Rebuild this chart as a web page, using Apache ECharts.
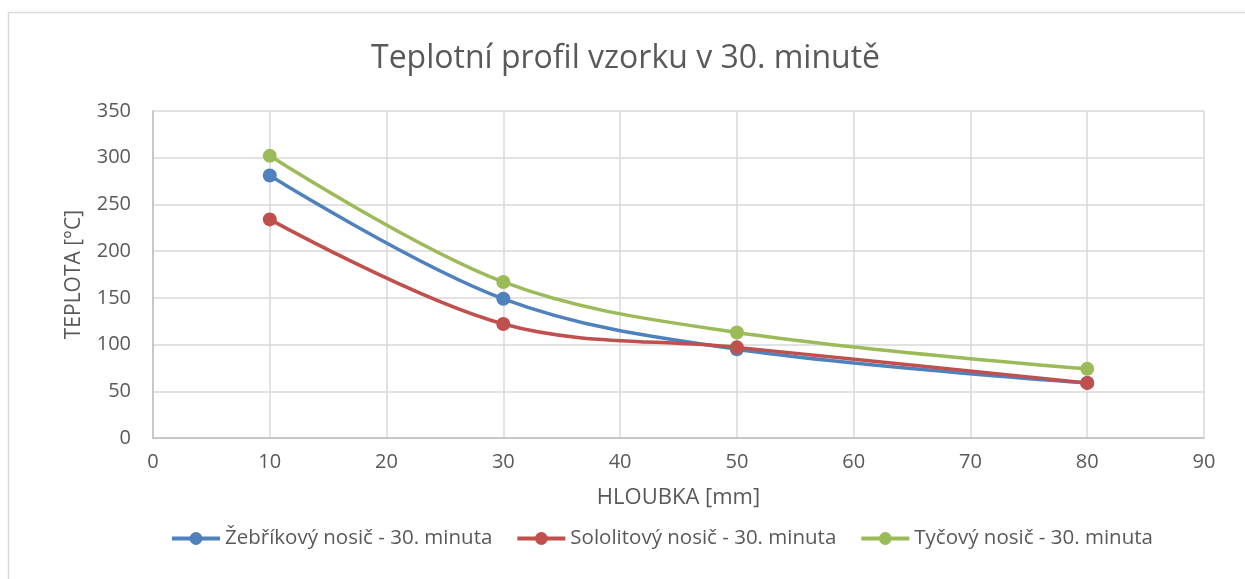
<!DOCTYPE html>
<html>
<head>
<meta charset="utf-8">
<script src="https://cdn.jsdelivr.net/npm/echarts@6/dist/echarts.min.js"></script>
<style>
  html, body { margin: 0; padding: 0; background: #fff; }
  #chart { width: 1245px; height: 579px; }
</style>
</head>
<body>
<div id="chart"></div>
<script>
// Hloubka měření [mm]
const depths = [10, 30, 50, 80];
// Teploty v 30. minutě [°C]
const zebrikovy = [281, 149, 95, 59];
const sololitovy = [234, 122, 97, 59];
const tycovy = [302, 167, 113, 74];

const seriesNames = [
  'Žebříkový nosič - 30. minuta',
  'Sololitový nosič - 30. minuta',
  'Tyčový nosič - 30. minuta'
];
const seriesColors = ['#4f81bd', '#c0504d', '#9bbb59'];
const seriesValues = [zebrikovy, sololitovy, tycovy];

const FONT = '"Open Sans", sans-serif';
const TEXT = '#595959';

const chart = echarts.init(document.getElementById('chart'), null, { renderer: 'canvas' });

chart.setOption({
  animation: false,
  backgroundColor: '#ffffff',
  title: {
    text: 'Teplotní profil vzorku v 30. minutě',
    left: 371,
    top: 43,
    padding: 0,
    textStyle: { fontFamily: FONT, fontSize: 32, fontWeight: 'normal', color: TEXT }
  },
  graphic: [{
    type: 'rect',
    shape: { x: 8.5, y: 12.5, width: 1260, height: 600 },
    style: { fill: 'none', stroke: '#d9d9d9', lineWidth: 1.5 },
    silent: true
  }],
  grid: { left: 153, right: 41, top: 111, bottom: 141 },
  legend: {
    bottom: 25,
    left: 165,
    itemWidth: 48,
    itemHeight: 16,
    itemGap: 23,
    lineStyle: { width: 4 },
    textStyle: { fontFamily: FONT, fontSize: 20.5, color: TEXT },
    data: seriesNames
  },
  xAxis: {
    type: 'value',
    min: 0, max: 90, interval: 10,
    name: 'HLOUBKA [mm]',
    nameLocation: 'middle',
    nameGap: 49,
    nameTextStyle: { fontFamily: FONT, fontSize: 22, color: TEXT },
    axisLine: { show: true, lineStyle: { color: '#bfbfbf', width: 1.5 } },
    axisTick: { show: false },
    axisLabel: { fontFamily: FONT, fontSize: 20, color: TEXT, margin: 14 },
    splitLine: { show: true, lineStyle: { color: '#d9d9d9', width: 1.5 } }
  },
  yAxis: {
    type: 'value',
    min: 0, max: 350, interval: 50,
    name: 'TEPLOTA [°C]',
    nameLocation: 'middle',
    nameGap: 68,
    nameTextStyle: { fontFamily: FONT, fontSize: 21, color: TEXT },
    axisLine: { show: true, lineStyle: { color: '#bfbfbf', width: 1.5 } },
    axisTick: { show: false },
    axisLabel: { fontFamily: FONT, fontSize: 20, color: TEXT, margin: 22 },
    splitLine: { show: true, lineStyle: { color: '#d9d9d9', width: 1.5 } }
  },
  series: seriesNames.map((name, i) => ({
    name,
    type: 'line',
    smooth: 0.35,
    data: depths.map((d, j) => [d, seriesValues[i][j]]),
    symbol: 'circle',
    symbolSize: 14,
    lineStyle: { color: seriesColors[i], width: 3.5 },
    itemStyle: { color: seriesColors[i] },
    z: 3 + i
  }))
});
</script>
</body>
</html>
